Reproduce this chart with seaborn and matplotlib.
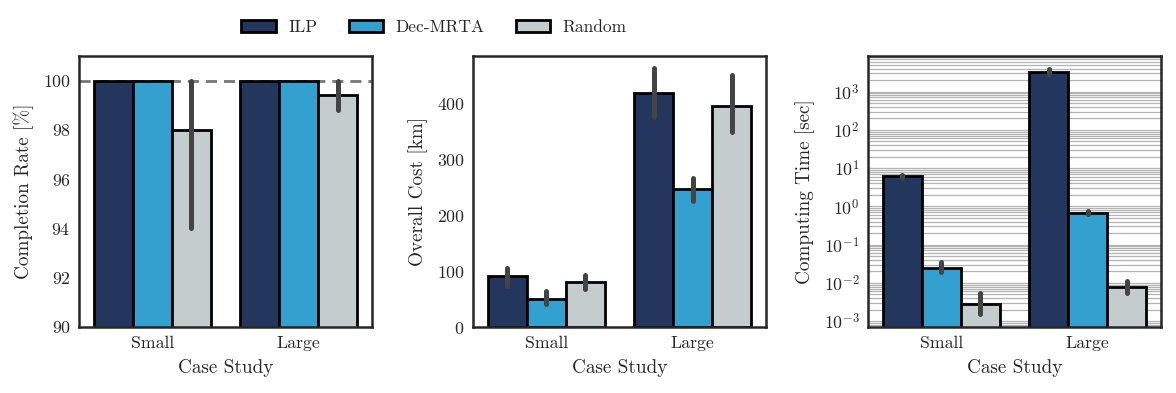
import numpy as np
import pandas as pd
import matplotlib
matplotlib.use("Agg")
import matplotlib.pyplot as plt
from matplotlib.ticker import LogLocator, NullFormatter
import seaborn as sns

cases = ["Small", "Large"]
methods = ["ILP", "Dec-MRTA", "Random"]
colors = ["#23375e", "#33a0cf", "#c5cccd"]

# values[method] = [Small, Large]
completion_mean = {"ILP": [100, 100], "Dec-MRTA": [100, 100], "Random": [98.0, 99.4]}
completion_lo = {"ILP": [100, 100], "Dec-MRTA": [100, 100], "Random": [94.0, 98.8]}
completion_hi = {"ILP": [100, 100], "Dec-MRTA": [100, 100], "Random": [100, 100]}

cost_mean = {"ILP": [91, 419], "Dec-MRTA": [51, 247], "Random": [80, 396]}
cost_lo = {"ILP": [74, 377], "Dec-MRTA": [41, 226], "Random": [69, 350]}
cost_hi = {"ILP": [106, 464], "Dec-MRTA": [65, 268], "Random": [93, 452]}

time_mean = {"ILP": [6.2, 3200], "Dec-MRTA": [0.025, 0.68], "Random": [0.0028, 0.008]}
time_lo = {"ILP": [6.0, 2900], "Dec-MRTA": [0.019, 0.63], "Random": [0.0015, 0.0055]}
time_hi = {"ILP": [6.6, 3900], "Dec-MRTA": [0.034, 0.74], "Random": [0.0053, 0.011]}

sns.set_theme(style="white")
plt.rcParams["font.family"] = ["cmr10", "DejaVu Serif"]
plt.rcParams["mathtext.fontset"] = "cm"
plt.rcParams["axes.formatter.use_mathtext"] = True
plt.rcParams["axes.unicode_minus"] = False


def frame(mean):
    rows = []
    for m in methods:
        for c, v in zip(cases, mean[m]):
            rows.append({"Case Study": c, "Method": m, "value": v})
    return pd.DataFrame(rows)


fig = plt.figure(figsize=(11.76, 3.93), dpi=100)
W, H = 1176, 393
lefts = [79, 473, 868]
aw = 293
top, bottom = 56, 327
axes = [fig.add_axes([l / W, 1 - bottom / H, aw / W, (bottom - top) / H]) for l in lefts]

specs = [
    (completion_mean, completion_lo, completion_hi, "Completion Rate [%]"),
    (cost_mean, cost_lo, cost_hi, "Overall Cost [km]"),
    (time_mean, time_lo, time_hi, "Computing Time [sec]"),
]

for k, (ax, (mean, lo, hi, ylab)) in enumerate(zip(axes, specs)):
    if k == 2:
        ax.set_yscale("log")
    df = frame(mean)
    sns.barplot(data=df, x="Case Study", y="value", hue="Method", hue_order=methods,
                order=cases, palette=colors, edgecolor="black", linewidth=2,
                errorbar=None, ax=ax, saturation=1, zorder=2)
    for i, m in enumerate(methods):
        for j, bar in enumerate(ax.containers[i]):
            x = bar.get_x() + bar.get_width() / 2
            ax.plot([x, x], [lo[m][j], hi[m][j]], color="#444444", lw=3.6,
                    solid_capstyle="round", zorder=4)
    ax.set_ylabel(ylab, fontsize=13.8, color="#262626", labelpad=6)
    ax.set_xlabel("Case Study", fontsize=13.8, color="#262626", labelpad=6)
    ax.tick_params(axis="both", labelsize=12.8, length=0, pad=6, colors="#262626")
    ax.legend_.remove()
    for s in ax.spines.values():
        s.set_linewidth(1.8)
        s.set_color("#262626")
    ax.set_xlim(-0.5, 1.5)

ax1, ax2, ax3 = axes
ax1.set_ylim(90, 101)
ax1.set_yticks([90, 92, 94, 96, 98, 100])
ax1.axhline(100, color="#777777", lw=2, ls=(0, (4, 2.5)), zorder=1)

ax2.set_ylim(0, 486)
ax2.set_yticks([0, 100, 200, 300, 400])

ax3.set_ylim(7e-4, 8500)
ax3.yaxis.set_major_locator(LogLocator(base=10, numticks=20))
ax3.yaxis.set_minor_locator(LogLocator(base=10, subs=np.arange(2, 10), numticks=50))
ax3.yaxis.set_minor_formatter(NullFormatter())
ax3.set_yticks([1e-3, 1e-2, 1e-1, 1, 10, 100, 1000])
ax3.set_ylim(7e-4, 8500)
ax3.set_axisbelow(True)
ax3.grid(True, which="both", axis="y", color="#b3b3b3", lw=0.9, zorder=0)
ax3.tick_params(which="minor", length=0)

handles, labels = ax1.get_legend_handles_labels()
fig.legend(handles, labels, loc="center", bbox_to_anchor=(434 / W, 1 - 27 / H), ncol=3,
           frameon=False, fontsize=12.5, handlelength=2.0, handleheight=0.7,
           columnspacing=1.8, handletextpad=0.7)

fig.savefig("out.png", dpi=100)
